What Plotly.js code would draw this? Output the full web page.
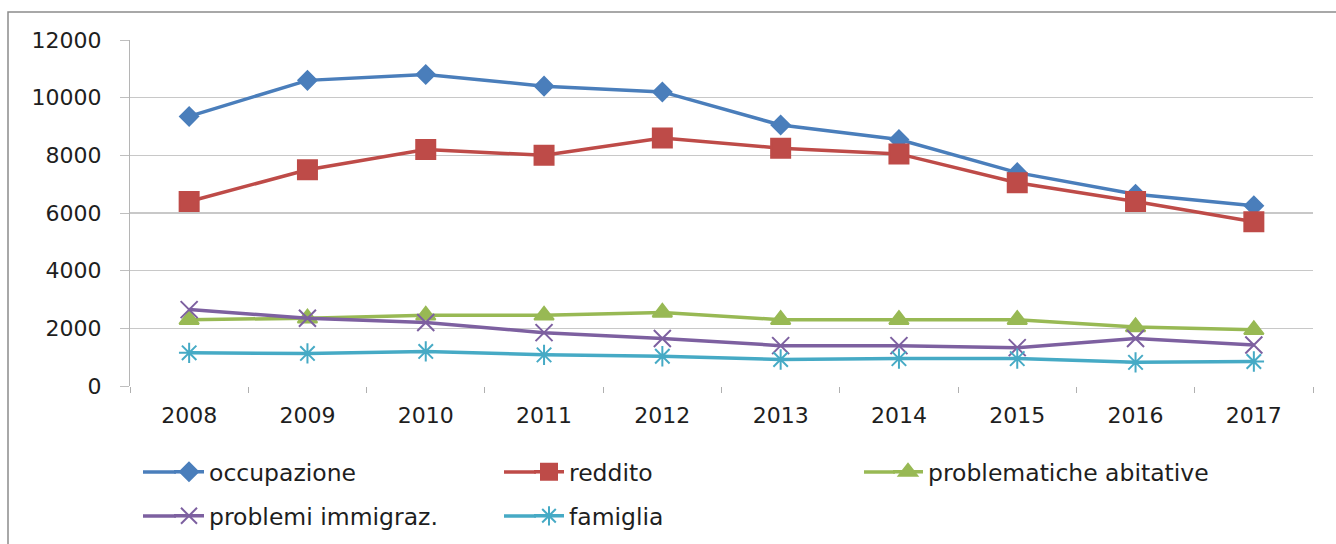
<!DOCTYPE html>
<html>
<head>
<meta charset="utf-8">
<script src="https://cdn.plot.ly/plotly-3.0.1.min.js"></script>
<style>html,body{margin:0;padding:0;background:#fff;}#chart{width:1336px;height:544px;}</style>
</head>
<body>
<div id="chart"></div>
<script>
const years = ['2008','2009','2010','2011','2012','2013','2014','2015','2016','2017'];
const occupazione = [9350, 10600, 10800, 10400, 10200, 9050, 8550, 7400, 6650, 6250];
const reddito = [6400, 7500, 8200, 8000, 8600, 8250, 8050, 7050, 6400, 5700];
const problematicheAbitative = [2300, 2350, 2450, 2450, 2550, 2300, 2300, 2300, 2050, 1950];
const problemiImmigraz = [2650, 2350, 2200, 1850, 1650, 1400, 1400, 1330, 1650, 1420];
const famiglia = [1150, 1130, 1200, 1080, 1030, 920, 950, 950, 820, 850];
const yTicks = [0, 2000, 4000, 6000, 8000, 10000, 12000];

const FONT = 'DejaVu Sans, Verdana, sans-serif';
const TXT = '#1e1e1e';
const COLORS = ['#4a7ebb', '#be4b48', '#98b954', '#7d60a0', '#46aac5'];

// plot area in px (for converting legend placements to paper coords)
const PL = 130, PW = 1183, PB = 386, PH = 346;
const px2x = p => (p - PL) / PW;
const px2y = p => (PB - p) / PH;

function tr(name, y, color, symbol, size, legend) {
  return {
    type: 'scatter', mode: 'lines+markers', name: name, x: years, y: y,
    line: {color: color, width: 3.5},
    marker: {symbol: symbol, size: size, color: color, line: {color: color, width: 2}},
    legend: legend
  };
}

const data = [
  tr('occupazione', occupazione, COLORS[0], 'diamond', 14, 'legend'),
  tr('reddito', reddito, COLORS[1], 'square', 19, 'legend2'),
  tr('problematiche abitative', problematicheAbitative, COLORS[2], 'triangle-up', 17, 'legend3'),
  tr('problemi immigraz.', problemiImmigraz, COLORS[3], 'x-thin-open', 17, 'legend4'),
  tr('famiglia', famiglia, COLORS[4], 'asterisk-open', 17, 'legend5')
];

function leg(xpx, ypx) {
  return {x: px2x(xpx), y: px2y(ypx), xanchor: 'left', yanchor: 'middle', orientation: 'h',
    font: {family: FONT, size: 23.5, color: TXT}, bgcolor: 'rgba(0,0,0,0)'};
}

// legend symbol line extensions (legend symbols in the reference are longer)
const legendRows = [
  {x0: 143, x1: 176, y: 472, c: COLORS[0]},
  {x0: 504, x1: 536, y: 472, c: COLORS[1]},
  {x0: 864, x1: 895, y: 472, c: COLORS[2]},
  {x0: 143, x1: 176, y: 516, c: COLORS[3]},
  {x0: 504, x1: 536, y: 516, c: COLORS[4]}
];
const shapes = [{
  type: 'rect', xref: 'paper', yref: 'paper',
  x0: px2x(8), x1: 1.05, y0: -0.6, y1: px2y(12),
  line: {color: '#8c8c8c', width: 1.5}, fillcolor: 'rgba(0,0,0,0)', layer: 'below'
}].concat(legendRows.map(r => ({
  type: 'line', xref: 'paper', yref: 'paper',
  x0: px2x(r.x0), x1: px2x(r.x1), y0: px2y(r.y), y1: px2y(r.y),
  line: {color: r.c, width: 3.5}
})));

const layout = {
  width: 1336, height: 544,
  margin: {l: 130, r: 23, t: 40, b: 158, autoexpand: false},
  paper_bgcolor: '#ffffff', plot_bgcolor: '#ffffff',
  font: {family: FONT, size: 22, color: TXT},
  showlegend: true,
  xaxis: {
    type: 'category', range: [-0.5, 9.5], tickvals: years, ticktext: years,
    tickson: 'boundaries', ticks: 'outside', ticklen: 6, tickcolor: '#b0b0b0', tickwidth: 1,
    showline: false, showgrid: false, zeroline: false, ticklabelstandoff: 14, automargin: false,
    tickfont: {family: FONT, size: 22, color: TXT}
  },
  yaxis: {
    range: [0, 12000], tickvals: yTicks, ticktext: yTicks.map(String),
    ticks: 'outside', ticklen: 9, tickcolor: '#bfbfbf',
    showline: true, linecolor: '#b5b5b5', linewidth: 1.2,
    showgrid: true, gridcolor: '#c8c8c8', gridwidth: 1.5, zeroline: false,
    ticklabelstandoff: 14, automargin: false,
    tickfont: {family: FONT, size: 22, color: TXT}
  },
  legend: leg(169, 472),
  legend2: leg(529, 472),
  legend3: leg(888, 472),
  legend4: leg(169, 516),
  legend5: leg(529, 516),
  shapes: shapes
};

Plotly.newPlot('chart', data, layout, {displayModeBar: false, staticPlot: true});
</script>
</body>
</html>
